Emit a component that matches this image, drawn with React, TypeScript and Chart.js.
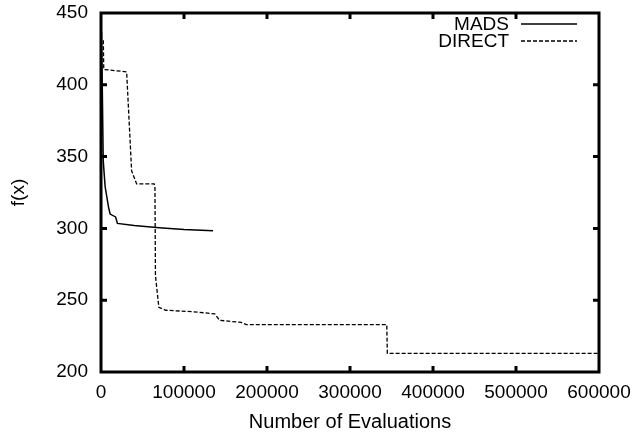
import { useEffect, useRef } from "react";
import { Chart, registerables } from "chart.js";

Chart.register(...registerables);

// ---- data ----
const xTicks = [0, 100000, 200000, 300000, 400000, 500000, 600000];
const yTicks = [200, 250, 300, 350, 400, 450];

const madsEvals = [600, 1500, 2700, 5000, 9000, 11000, 17500, 19800, 40000, 70000, 100000, 135000];
const madsF = [437, 400, 347, 329, 315, 310, 308, 303.5, 302, 300.5, 299.3, 298.4];

const directEvals = [2800, 3300, 30900, 36900, 42900, 64100, 65000, 65600, 69700, 78000, 110000, 137000, 143000, 169000, 175000, 344300, 345000, 600000];
const directF = [431, 410.7, 409, 340, 331, 331, 329, 267, 245, 243, 242, 240.5, 236, 234.5, 233, 233, 213, 213];

const seriesNames = ["MADS", "DIRECT"];
const xTitle = "Number of Evaluations";
const yTitle = "f(x)";

const FONT = "'Liberation Sans', Arial, Helvetica, sans-serif";
const FS = 19;
const TFS = 20;

const framePlugin = {
  id: "frame",
  afterDatasetsDraw(chart: any) {
    const { ctx, chartArea: a, scales } = chart;
    ctx.save();
    ctx.strokeStyle = "#000";
    ctx.lineWidth = 3;
    ctx.strokeRect(a.left, a.top, a.right - a.left, a.bottom - a.top);
    const L = 6;
    ctx.beginPath();
    xTicks.slice(1, -1).forEach((v) => {
      const px = scales.x.getPixelForValue(v);
      ctx.moveTo(px, a.bottom);
      ctx.lineTo(px, a.bottom - L);
      ctx.moveTo(px, a.top);
      ctx.lineTo(px, a.top + L);
    });
    yTicks.slice(1, -1).forEach((v) => {
      const py = scales.y.getPixelForValue(v);
      ctx.moveTo(a.left, py);
      ctx.lineTo(a.left + L, py);
      ctx.moveTo(a.right, py);
      ctx.lineTo(a.right - L, py);
    });
    ctx.stroke();

    // legend (text left of line sample, top right inside plot)
    ctx.font = `${FS}px ${FONT}`;
    ctx.fillStyle = "#000";
    ctx.textAlign = "right";
    ctx.textBaseline = "middle";
    const textRight = a.right - 90;
    const lineL = a.right - 78;
    const lineR = a.right - 22;
    const rows = [a.top + 11, a.top + 28];
    seriesNames.forEach((name, i) => {
      const y = rows[i];
      ctx.fillText(name, textRight, y + 1);
      ctx.beginPath();
      ctx.lineWidth = i === 0 ? 1.5 : 1.3;
      ctx.setLineDash(i === 0 ? [] : [4, 2]);
      ctx.moveTo(lineL, y);
      ctx.lineTo(lineR, y);
      ctx.stroke();
    });
    ctx.setLineDash([]);
    ctx.restore();
  },
};

export default function App() {
  const ref = useRef<HTMLCanvasElement>(null);
  useEffect(() => {
    if (!ref.current) return;
    const chart = new Chart(ref.current, {
      type: "line",
      data: {
        datasets: [
          {
            label: seriesNames[0],
            data: madsEvals.map((x, i) => ({ x, y: madsF[i] })),
            borderColor: "#000",
            borderWidth: 1.5,
            pointRadius: 0,
            tension: 0,
            fill: false,
          },
          {
            label: seriesNames[1],
            data: directEvals.map((x, i) => ({ x, y: directF[i] })),
            borderColor: "#000",
            borderWidth: 1.3,
            borderDash: [4, 2],
            pointRadius: 0,
            tension: 0,
            fill: false,
          },
        ],
      },
      options: {
        animation: false,
        responsive: false,
        devicePixelRatio: 1,
        layout: { padding: { left: 0, top: 13, right: 37, bottom: 0 } },
        plugins: { legend: { display: false }, tooltip: { enabled: false } },
        scales: {
          x: {
            type: "linear",
            min: 0,
            max: 600000,
            grid: { display: false, drawTicks: false },
            border: { display: false },
            afterBuildTicks: (s: any) => {
              s.ticks = xTicks.map((value) => ({ value }));
            },
            afterFit: (s: any) => {
              s.height = 62;
              s.paddingLeft = 0;
              s.paddingRight = 0;
              s.paddingTop = 0;
              s.paddingBottom = 0;
            },
            ticks: {
              color: "#000",
              font: { family: FONT, size: FS },
              padding: 9,
              maxRotation: 0,
              autoSkip: false,
              callback: (v: any) => String(v),
            },
            title: {
              display: true,
              text: xTitle,
              color: "#000",
              font: { family: FONT, size: TFS },
              padding: { top: 0, bottom: 0 },
            },
          },
          y: {
            type: "linear",
            min: 200,
            max: 450,
            grid: { display: false, drawTicks: false },
            border: { display: false },
            afterBuildTicks: (s: any) => {
              s.ticks = yTicks.map((value) => ({ value }));
            },
            afterFit: (s: any) => {
              s.width = 101;
              s.paddingLeft = 0;
              s.paddingRight = 0;
              s.paddingTop = 0;
              s.paddingBottom = 0;
            },
            ticks: {
              color: "#000",
              font: { family: FONT, size: FS },
              padding: 13,
              autoSkip: false,
              callback: (v: any) => String(v),
            },
            title: {
              display: true,
              text: yTitle,
              color: "#000",
              font: { family: FONT, size: FS },
              padding: { top: 7, bottom: 0 },
            },
          },
        },
      },
      plugins: [framePlugin],
    });
    return () => chart.destroy();
  }, []);
  return (
    <div style={{ position: "fixed", left: 0, top: 0, width: 636, height: 434, background: "#fff" }}>
      <canvas ref={ref} width={636} height={434} style={{ display: "block" }} />
    </div>
  );
}
